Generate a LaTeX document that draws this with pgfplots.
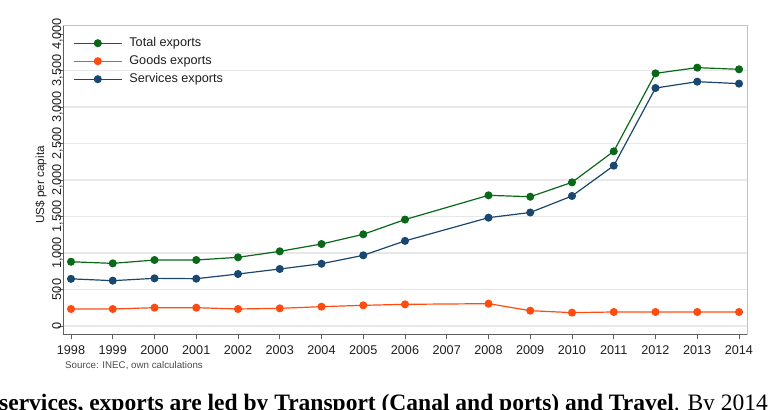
\documentclass[border=0pt]{standalone}
\usepackage{pgfplots}
\pgfplotsset{compat=1.18}
\usepackage{fontspec}
\setmainfont{Liberation Sans}
\newfontfamily\capserif{Liberation Serif}
\definecolor{totc}{RGB}{10,105,25}
\definecolor{goodc}{RGB}{255,75,15}
\definecolor{servc}{RGB}{26,71,111}
\definecolor{gridc}{RGB}{232,232,232}
\definecolor{framec}{RGB}{195,195,195}
\definecolor{axc}{RGB}{95,95,95}
\definecolor{txtc}{RGB}{30,30,30}

\pgfplotstableread{
year total
1998 880
1999 858
2000 904
2001 904
2002 941
2003 1023
2004 1123
2005 1256
2006 1458
2008 1790
2009 1771
2010 1968
2011 2393
2012 3461
2013 3539
2014 3516
}\totaltab
\pgfplotstableread{
year goods
1998 233
1999 233
2000 251
2001 251
2002 233
2003 242
2004 265
2005 283
2006 297
2008 306
2009 210
2010 183
2011 192
2012 192
2013 192
2014 192
}\goodstab
\pgfplotstableread{
year serv
1998 646
1999 621
2000 653
2001 648
2002 712
2003 781
2004 853
2005 968
2006 1166
2008 1484
2009 1555
2010 1781
2011 2196
2012 3260
2013 3347
2014 3320
}\servtab

\begin{document}
\begin{tikzpicture}[x=1bp,y=1bp]
\useasboundingbox (0,0) rectangle (773,409);
\begin{scope}
\clip (0,0) rectangle (773,409);
\begin{axis}[
  at={(63bp,75bp)}, anchor=south west,
  scale only axis, width=684bp, height=308bp,
  xmin=1997.8084, xmax=2014.1916,
  ymin=-109.6, ymax=4109.6,
  xtick={1998,...,2014},
  ytick={0,500,...,3500},
  extra y ticks={4000},
  extra y tick style={grid=none},
  ymajorgrids,
  grid style={draw=gridc, line width=1.3bp},
  axis line style={draw=framec, line width=1bp},
  tick align=outside,
  xtick pos=left, ytick pos=left,
  major tick length=5bp,
  tick style={draw=axc, line width=0.9bp},
  /pgf/number format/assume math mode=true,
  /pgf/number format/1000 sep={,},
  xticklabel style={/pgf/number format/1000 sep={}, font=\fontsize{12.7}{14}\selectfont, text=txtc, anchor=base, yshift=-15bp},
  yticklabel style={xshift=3bp, rotate=90, anchor=base, font=\fontsize{12.8}{14}\selectfont, text=txtc},
  ylabel={US\$ per capita},
  ylabel style={at={(axis description cs:-0.032,0.484)}, anchor=center, rotate=0, font=\fontsize{11.8}{13}\selectfont, text=txtc},
  legend style={draw=none, fill=none, at={(axis description cs:0.0146,0.974)}, anchor=north west, inner sep=0pt,
    font=\fontsize{12.7}{14}\selectfont, text=txtc, column sep=4bp,
    nodes={inner sep=3bp, text height=9bp, text depth=3bp}},
  legend cell align=left,
  legend image code/.code={\draw[mark repeat=2, mark phase=2] plot coordinates {(0bp,0bp) (24bp,0bp) (48bp,0bp)};},
  every axis plot/.append style={line width=1.2bp, mark=*, mark size=3.4bp},
  clip=false,
]
\addplot[color=totc, mark options={fill=totc, draw=totc}] table[x=year,y=total] {\totaltab};
\addlegendentry{Total exports}
\addplot[color=goodc, mark options={fill=goodc, draw=goodc}] table[x=year,y=goods] {\goodstab};
\addlegendentry{Goods exports}
\addplot[color=servc, mark options={fill=servc, draw=servc}] table[x=year,y=serv] {\servtab};
\addlegendentry{Services exports}
\draw[axc, line width=1bp] (rel axis cs:0,1) -- (rel axis cs:0,0) -- (rel axis cs:1,0);
\end{axis}
\node[anchor=west, inner sep=0pt, text=black!70, font=\fontsize{9.8}{11}\selectfont] at (65,43) {Source: INEC, own calculations};
\node[anchor=base west, inner sep=0pt, font=\capserif\fontsize{23.6}{28}\selectfont] at (-1,-1) {\bfseries services, exports are led by Transport (Canal and ports) and Travel\mdseries. By 2014};
\end{scope}
\end{tikzpicture}
\end{document}
